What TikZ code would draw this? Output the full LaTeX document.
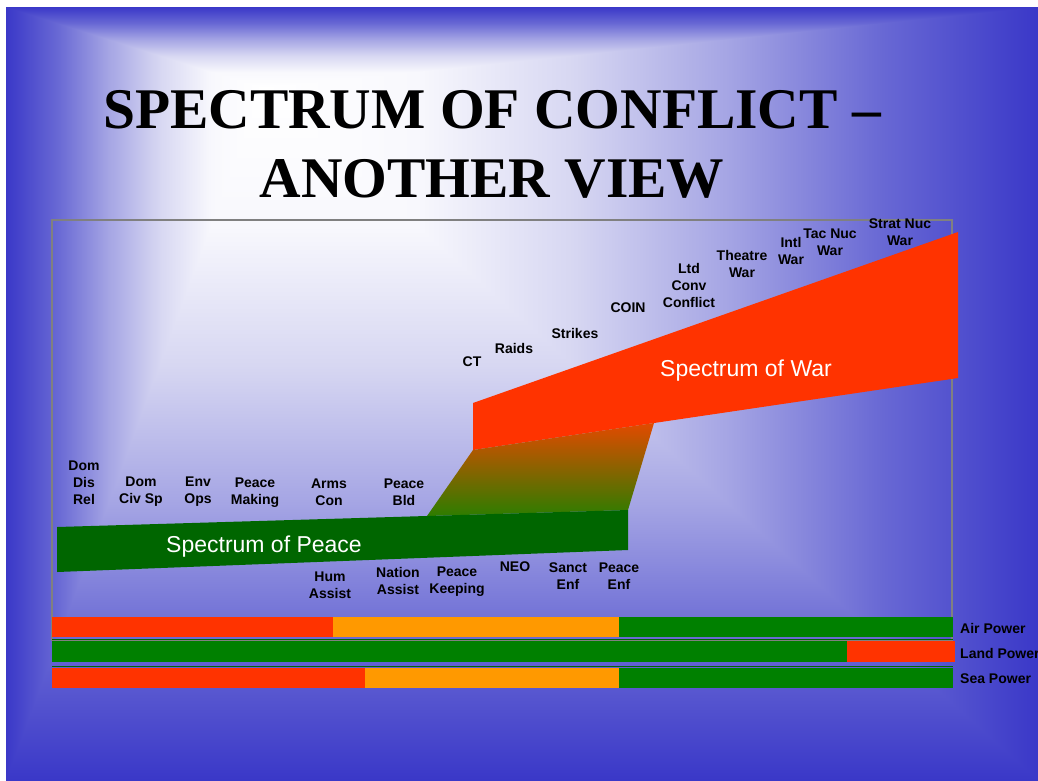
\documentclass[tikz,border=0pt]{standalone}
\usepackage{fontspec}
\setmainfont{Liberation Serif}
\setsansfont{Liberation Sans}
\definecolor{bgA}{RGB}{255,255,255}
\definecolor{bgB}{RGB}{248,248,253}
\definecolor{bgC}{RGB}{215,215,242}
\definecolor{bgD}{RGB}{165,165,228}
\definecolor{bgE}{RGB}{104,104,212}
\definecolor{bgF}{RGB}{58,56,200}
\definecolor{warred}{RGB}{255,51,0}
\definecolor{barorange}{RGB}{255,153,0}
\definecolor{bargreen}{RGB}{0,128,0}
\definecolor{peacegreen}{RGB}{0,102,0}
\definecolor{gradtop}{RGB}{226,74,0}
\definecolor{gradbot}{RGB}{45,125,0}
\definecolor{boxgray}{RGB}{128,128,128}
\pgfdeclarehorizontalshading{bgin}{100bp}{color(0bp)=(bgF); color(25bp)=(bgF); color(35bp)=(bgE); color(45bp)=(bgD); color(55bp)=(bgC); color(65bp)=(bgB); color(75bp)=(bgA); color(100bp)=(bgA)}
\pgfdeclarehorizontalshading{bgout}{100bp}{color(0bp)=(bgA); color(25bp)=(bgA); color(35bp)=(bgB); color(45bp)=(bgC); color(55bp)=(bgD); color(65bp)=(bgE); color(75bp)=(bgF); color(100bp)=(bgF)}
\pgfdeclareverticalshading{bgvin}{100bp}{color(0bp)=(bgF); color(25bp)=(bgF); color(35bp)=(bgE); color(45bp)=(bgD); color(55bp)=(bgC); color(65bp)=(bgB); color(75bp)=(bgA); color(100bp)=(bgA)}
\pgfdeclareverticalshading{bgvout}{100bp}{color(0bp)=(bgA); color(25bp)=(bgA); color(35bp)=(bgB); color(45bp)=(bgC); color(55bp)=(bgD); color(65bp)=(bgE); color(75bp)=(bgF); color(100bp)=(bgF)}
\begin{document}
\begin{tikzpicture}[x=1pt,y=-1pt,
  lbl/.style={font=\sffamily\bfseries\fontsize{14}{17}\selectfont, align=center, inner sep=0pt, text=black},
  side/.style={lbl, anchor=west},
  band/.style={font=\sffamily\fontsize{23}{27}\selectfont, text=white, inner sep=0pt, anchor=base},
  ttl/.style={font=\rmfamily\bfseries\fontsize{57.5}{69}\selectfont, inner sep=0pt, anchor=base, text=black}]
\useasboundingbox (0,0) rectangle (1038,780);
% background
\fill[white] (0,0) rectangle (1038,780);
\coordinate (F) at (262,88);
\coordinate (TL) at (6,7);
\coordinate (TR) at (1038,7);
\coordinate (BR) at (1038,780);
\coordinate (BL) at (6,780);
\shade[shading=bgvout] (6,7) rectangle (1038,88);
\shade[shading=bgvin] (6,88) rectangle (1038,780);
\shade[shading=bgin] (TL) -- (BL) -- (F) -- cycle;
\shade[shading=bgout] (TR) -- (BR) -- (F) -- cycle;
% title
\node[ttl] (title1) at (492,128) {SPECTRUM OF CONFLICT –};
\node[ttl] (title2) at (492,197) {ANOTHER VIEW};
% chart frame
\draw[boxgray, line width=1.2pt] (52,220) rectangle (952,640);
% spectrum of war
\fill[warred] (473,403) -- (958,232) -- (958,378) -- (654,423) -- (473,450) -- cycle;
\shade[top color=gradtop, bottom color=gradbot] (473,450) -- (654,423) -- (628,510) -- (427,516) -- cycle;
% spectrum of peace
\fill[peacegreen] (57,527) -- (628,510) -- (628,550) -- (57,572) -- cycle;
\node[band] (peace) at (264,552) {Spectrum of Peace};
\node[band] (war) at (746,376) {Spectrum of War};
% upper-left labels
\node[lbl] (domdis) at (84,483) {Dom\\Dis\\Rel};
\node[lbl] (domciv) at (141,492) {Dom\\Civ Sp};
\node[lbl] (envops) at (198,492) {Env\\Ops};
\node[lbl] (pmaking) at (255,493) {Peace\\Making};
\node[lbl] (arms) at (329,492) {Arms\\Con};
\node[lbl] (pbld) at (404,492) {Peace\\Bld};
% lower labels
\node[lbl] (hum) at (330,585) {Hum\\Assist};
\node[lbl] (nation) at (398,581) {Nation\\Assist};
\node[lbl] (pkeep) at (457,582) {Peace\\Keeping};
\node[lbl] (neo) at (515,567) {NEO};
\node[lbl] (sanct) at (568,576) {Sanct\\Enf};
\node[lbl] (penf) at (619,576) {Peace\\Enf};
% war labels
\node[lbl] (ct) at (472,362) {CT};
\node[lbl] (raids) at (514,348) {Raids};
\node[lbl] (strikes) at (575,333) {Strikes};
\node[lbl] (coin) at (628,308) {COIN};
\node[lbl] (ltd) at (689,285) {Ltd\\Conv\\Conflict};
\node[lbl] (theatre) at (742,264) {Theatre\\War};
\node[lbl] (intl) at (791,251) {Intl\\War};
\node[lbl] (tacnuc) at (830,242) {Tac Nuc\\War};
\node[lbl] (stratnuc) at (900,232) {Strat Nuc\\War};
% power bars
\fill[warred] (52,617) rectangle (333,637);
\fill[barorange] (333,617) rectangle (619,637);
\fill[bargreen] (619,617) rectangle (953,637);
\fill[peacegreen] (52,638.5) rectangle (953,639.8);
\fill[bargreen] (52,641) rectangle (847,662);
\fill[warred] (847,641) rectangle (955,662);
\fill[peacegreen] (52,666) rectangle (953,667.3);
\fill[warred] (52,668) rectangle (365,688);
\fill[barorange] (365,668) rectangle (619,688);
\fill[bargreen] (619,668) rectangle (953,688);
\node[side] (air) at (960,628) {Air Power};
\node[side] (land) at (960,653) {Land Power};
\node[side] (sea) at (960,679) {Sea Power};
\end{tikzpicture}
\end{document}
